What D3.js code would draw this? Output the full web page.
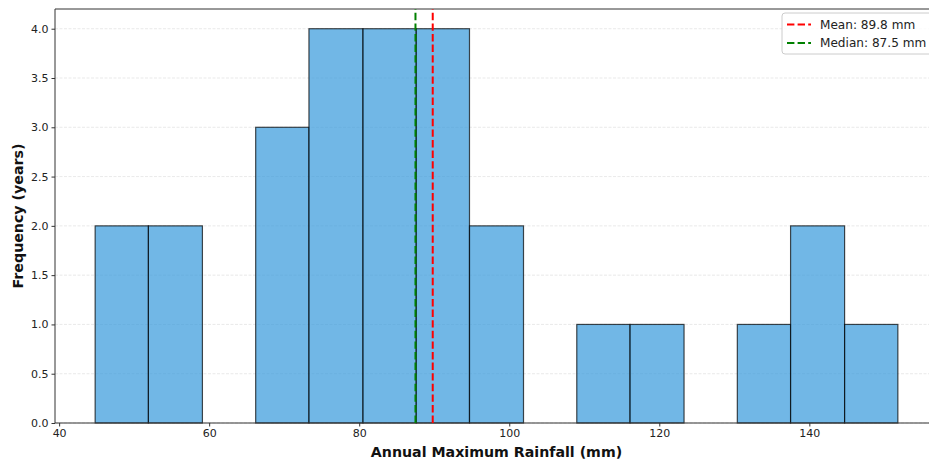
<!DOCTYPE html>
<html><head><meta charset="utf-8">
<script src="https://cdn.jsdelivr.net/npm/d3@7"></script>
<style>body{margin:0;background:#fff;overflow:hidden}svg{display:block;font-family:"DejaVu Sans",sans-serif}</style>
</head><body>
<svg id="chart" width="929" height="462"></svg>
<script>
// Data
const binEdges = [44.8, 51.9, 59.1, 66.2, 73.3, 80.5, 87.6, 94.7, 101.9, 109.0, 116.1, 123.3, 130.4, 137.5, 144.7, 151.8];
const counts = [2, 2, 0, 3, 4, 4, 4, 2, 0, 1, 1, 0, 1, 2, 1];
const meanValue = 89.8;
const medianValue = 87.5;
const xTicks = [40, 60, 80, 100, 120, 140];
const yTicks = [0, 0.5, 1.0, 1.5, 2.0, 2.5, 3.0, 3.5, 4.0];
const legendLabels = ["Mean: 89.8 mm", "Median: 87.5 mm"];

const svg = d3.select("#chart");
const L = 55, R = 938, T = 9, B = 423;
const x = d3.scaleLinear().domain([39.45, 157.15]).range([L, R]);
const y = d3.scaleLinear().domain([0, 4.2]).range([B, T]);

// grid
svg.append("g").selectAll("line").data(yTicks).join("line")
  .attr("x1", L).attr("x2", R).attr("y1", d => y(d)).attr("y2", d => y(d))
  .attr("stroke", "#b0b0b0").attr("stroke-opacity", 0.35).attr("stroke-width", 0.8)
  .attr("stroke-dasharray", "3,1.5");

// bars
const bins = counts.map((c, i) => ({x0: binEdges[i], x1: binEdges[i + 1], c}));
svg.append("g").selectAll("rect").data(bins.filter(b => b.c > 0)).join("rect")
  .attr("x", d => x(d.x0)).attr("width", d => x(d.x1) - x(d.x0))
  .attr("y", d => y(d.c)).attr("height", d => y(0) - y(d.c))
  .attr("fill", "#3498db").attr("fill-opacity", 0.7)
  .attr("stroke", "#000").attr("stroke-opacity", 0.7).attr("stroke-width", 1.2);

// axes
const xAxis = svg.append("g").attr("transform", `translate(0,${B})`)
  .call(d3.axisBottom(x).tickValues(xTicks).tickFormat(d3.format("d")).tickSize(3.5).tickPadding(3));
const yAxis = svg.append("g").attr("transform", `translate(${L},0)`)
  .call(d3.axisLeft(y).tickValues(yTicks).tickFormat(d3.format(".1f")).tickSize(3.5).tickPadding(3));
[xAxis, yAxis].forEach(a => {
  a.select(".domain").remove();
  a.selectAll("line").attr("stroke", "#333");
  a.selectAll("text").attr("fill", "#222").style("font-size", "11px").style("font-family", "DejaVu Sans");
});
// spines
svg.append("line").attr("x1", L).attr("x2", L).attr("y1", T).attr("y2", B).attr("stroke", "#333").attr("stroke-width", 1);
svg.append("line").attr("x1", L).attr("x2", R).attr("y1", B).attr("y2", B).attr("stroke", "#333").attr("stroke-width", 1);
svg.append("line").attr("x1", L).attr("x2", R).attr("y1", T).attr("y2", T).attr("stroke", "#333").attr("stroke-width", 1);
svg.append("line").attr("x1", R).attr("x2", R).attr("y1", T).attr("y2", B).attr("stroke", "#333").attr("stroke-width", 1);

// mean / median lines
const vlines = [{v: meanValue, c: "#ff0000"}, {v: medianValue, c: "#008000"}];
svg.append("g").selectAll("line").data(vlines).join("line")
  .attr("x1", d => x(d.v)).attr("x2", d => x(d.v)).attr("y1", B).attr("y2", T)
  .attr("stroke", d => d.c).attr("stroke-width", 2).attr("stroke-dasharray", "7.4,3.2");

// labels
svg.append("text").attr("x", (L + R) / 2).attr("y", 457).attr("text-anchor", "middle")
  .style("font-size", "14.2px").style("font-weight", "bold").attr("fill", "#111")
  .text("Annual Maximum Rainfall (mm)");
svg.append("text").attr("transform", `translate(23,${(T + B) / 2}) rotate(-90)`).attr("text-anchor", "middle")
  .style("font-size", "14.2px").style("font-weight", "bold").attr("fill", "#111")
  .text("Frequency (years)");

// legend
const lg = svg.append("g");
lg.append("rect").attr("x", 782).attr("y", 13).attr("width", 150).attr("height", 41).attr("rx", 3)
  .attr("fill", "#fff").attr("fill-opacity", 0.8).attr("stroke", "#ccc").attr("stroke-width", 1);
const colors = ["#ff0000", "#008000"];
legendLabels.forEach((t, i) => {
  const yy = 24.5 + i * 18.5;
  lg.append("line").attr("x1", 787).attr("x2", 811).attr("y1", yy).attr("y2", yy)
    .attr("stroke", colors[i]).attr("stroke-width", 2).attr("stroke-dasharray", "7.4,3.2");
  lg.append("text").attr("x", 820).attr("y", yy + 4.3).style("font-size", "12.1px").attr("fill", "#222").text(t);
});
</script>
</body></html>
